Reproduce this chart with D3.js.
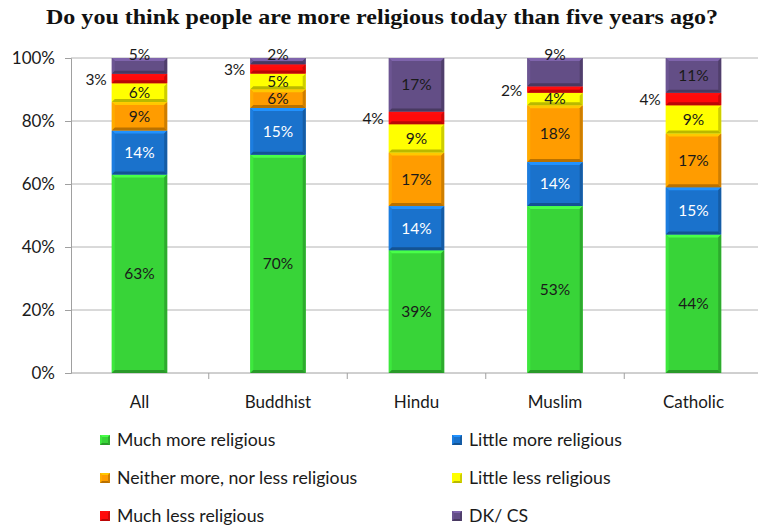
<!DOCTYPE html>
<html>
<head>
<meta charset="utf-8">
<script src="https://cdn.jsdelivr.net/npm/d3@7"></script>
<style>
  html, body { margin: 0; padding: 0; background: #fff; }
  svg { display: block; }
</style>
</head>
<body>
<svg id="chart" width="758" height="529"></svg>
<script>
// Survey: change in religiosity over five years, by religious group
const categories = ["All", "Buddhist", "Hindu", "Muslim", "Catholic"];
const seriesNames = [
  "Much more religious",
  "Little more religious",
  "Neither more, nor less religious",
  "Little less religious",
  "Much less religious",
  "DK/ CS"
];
const muchMore    = [63, 70, 39, 53, 44];
const littleMore  = [14, 15, 14, 14, 15];
const neither     = [9, 6, 17, 18, 17];
const littleLess  = [6, 5, 9, 4, 9];
const muchLess    = [3, 3, 4, 2, 4];
const dkcs        = [5, 2, 17, 9, 11];
const yTicks = [0, 20, 40, 60, 80, 100];

const seriesValues = [muchMore, littleMore, neither, littleLess, muchLess, dkcs];
const colors = ["#38d438", "#1a72cc", "#ff9c00", "#ffff00", "#ff0a0a", "#634e86"];
const labelColors = ["#1a1a1a", "#ffffff", "#1a1a1a", "#1a1a1a", "#1a1a1a", "#1a1a1a"];

// groups whose DK/CS label sits on top of the bar
const dkLabelOnTop = ["All", "Buddhist", "Muslim"];

const rows = categories.map((c, i) => {
  const r = { cat: c };
  seriesNames.forEach((s, k) => r[s] = seriesValues[k][i]);
  return r;
});

const svg = d3.select("#chart");
const font = "Lato, 'Open Sans', sans-serif";

const x = d3.scaleBand().domain(categories).range([70.25, 762.75]).paddingInner(0.6).paddingOuter(0.3);
const y = d3.scaleLinear().domain([0, 100]).range([373, 58]);

// Title
svg.append("text")
  .attr("x", 46).attr("y", 24)
  .attr("font-family", "'Liberation Serif', 'DejaVu Serif', serif")
  .attr("font-weight", "bold")
  .attr("font-size", 21)
  .attr("textLength", 672)
  .attr("lengthAdjust", "spacingAndGlyphs")
  .attr("fill", "#111")
  .text("Do you think people are more religious today than five years ago?");

// Gridlines
svg.append("g").selectAll("line")
  .data(yTicks.filter(t => t > 0))
  .join("line")
  .attr("x1", 71).attr("x2", 758)
  .attr("y1", d => y(d)).attr("y2", d => y(d))
  .attr("stroke", "#b4b4b4").attr("stroke-width", 1);

// Y axis
const yAxis = svg.append("g")
  .attr("transform", "translate(71,0)")
  .call(d3.axisLeft(y).tickValues(yTicks).tickFormat(d => d + "%").tickSize(6).tickPadding(10));
yAxis.select(".domain").attr("stroke", "#a0a0a0");
yAxis.selectAll(".tick line").attr("stroke", "#a0a0a0");
yAxis.selectAll("text").attr("font-family", font).attr("font-size", 17).attr("fill", "#1a1a1a");

// X axis baseline + ticks between categories
const band = x.step();
const xStart = x.range()[0];
svg.append("line")
  .attr("x1", 71).attr("x2", 758).attr("y1", y(0)).attr("y2", y(0))
  .attr("stroke", "#a0a0a0");
svg.append("g").selectAll("line")
  .data(d3.range(1, categories.length))
  .join("line")
  .attr("x1", i => xStart + i * band).attr("x2", i => xStart + i * band)
  .attr("y1", y(0)).attr("y2", y(0) + 6)
  .attr("stroke", "#a0a0a0");
svg.append("g").selectAll("text")
  .data(categories)
  .join("text")
  .attr("x", d => x(d) + x.bandwidth() / 2)
  .attr("y", 408)
  .attr("text-anchor", "middle")
  .attr("font-family", font).attr("font-size", 17).attr("fill", "#1a1a1a")
  .text(d => d);

// Stacked, normalised to 100%
const stack = d3.stack().keys(seriesNames).offset(d3.stackOffsetExpand);
const layers = stack(rows);

function bevel(g, x0, y0, w, h, color, b) {
  const c = d3.color(color);
  g.append("rect").attr("x", x0).attr("y", y0).attr("width", w).attr("height", h).attr("fill", color);
  if (h < 2 * b) b = Math.max(1, h / 2.5);
  const x1 = x0 + w, y1 = y0 + h;
  const poly = (pts, fill) => g.append("polygon").attr("points", pts.map(p => p.join(",")).join(" ")).attr("fill", fill);
  poly([[x0, y0], [x1, y0], [x1 - b, y0 + b], [x0 + b, y0 + b]], c.brighter(0.7).formatHex());
  poly([[x0, y0], [x0 + b, y0 + b], [x0 + b, y1 - b], [x0, y1]], c.brighter(0.25).formatHex());
  poly([[x1, y0], [x1, y1], [x1 - b, y1 - b], [x1 - b, y0 + b]], c.darker(0.6).formatHex());
  poly([[x0, y1], [x1, y1], [x1 - b, y1 - b], [x0 + b, y1 - b]], c.darker(0.9).formatHex());
}

const barsG = svg.append("g");
layers.forEach((layer, k) => {
  layer.forEach((seg, i) => {
    const cat = categories[i];
    const x0 = x(cat), w = x.bandwidth();
    const yTop = y(seg[1] * 100), yBot = y(seg[0] * 100);
    bevel(barsG.append("g"), x0, yTop, w, yBot - yTop, colors[k], 3);
  });
});

// Value labels
const labelsG = svg.append("g").attr("font-family", font).attr("font-size", 15.5);
layers.forEach((layer, k) => {
  layer.forEach((seg, i) => {
    const cat = categories[i];
    const v = seriesValues[k][i];
    const yTop = y(seg[1] * 100), yBot = y(seg[0] * 100);
    const cx = x(cat) + x.bandwidth() / 2;
    let tx = cx, ty = (yTop + yBot) / 2, anchor = "middle", fill = labelColors[k];
    if (seriesNames[k] === "Much less religious") {
      tx = x(cat) - 5; anchor = "end"; ty += 1;
    } else if (seriesNames[k] === "DK/ CS" && dkLabelOnTop.includes(cat)) {
      ty = y(100) - 3;
    }
    labelsG.append("text")
      .attr("x", tx).attr("y", ty)
      .attr("dy", "0.35em")
      .attr("text-anchor", anchor)
      .attr("fill", fill)
      .text(v + "%");
  });
});

// Legend
const legendCols = [100, 452];
const legendRows = [440, 478, 516];
const legend = svg.append("g");
seriesNames.forEach((s, k) => {
  const lx = legendCols[k % 2], ly = legendRows[Math.floor(k / 2)];
  const g = legend.append("g");
  bevel(g, lx, ly - 5, 10, 10, colors[k], 2);
  g.append("text")
    .attr("x", lx + 17).attr("y", ly)
    .attr("dy", "0.35em")
    .attr("font-family", font).attr("font-size", 17.7).attr("fill", "#1a1a1a")
    .text(s);
});
</script>
</body>
</html>
